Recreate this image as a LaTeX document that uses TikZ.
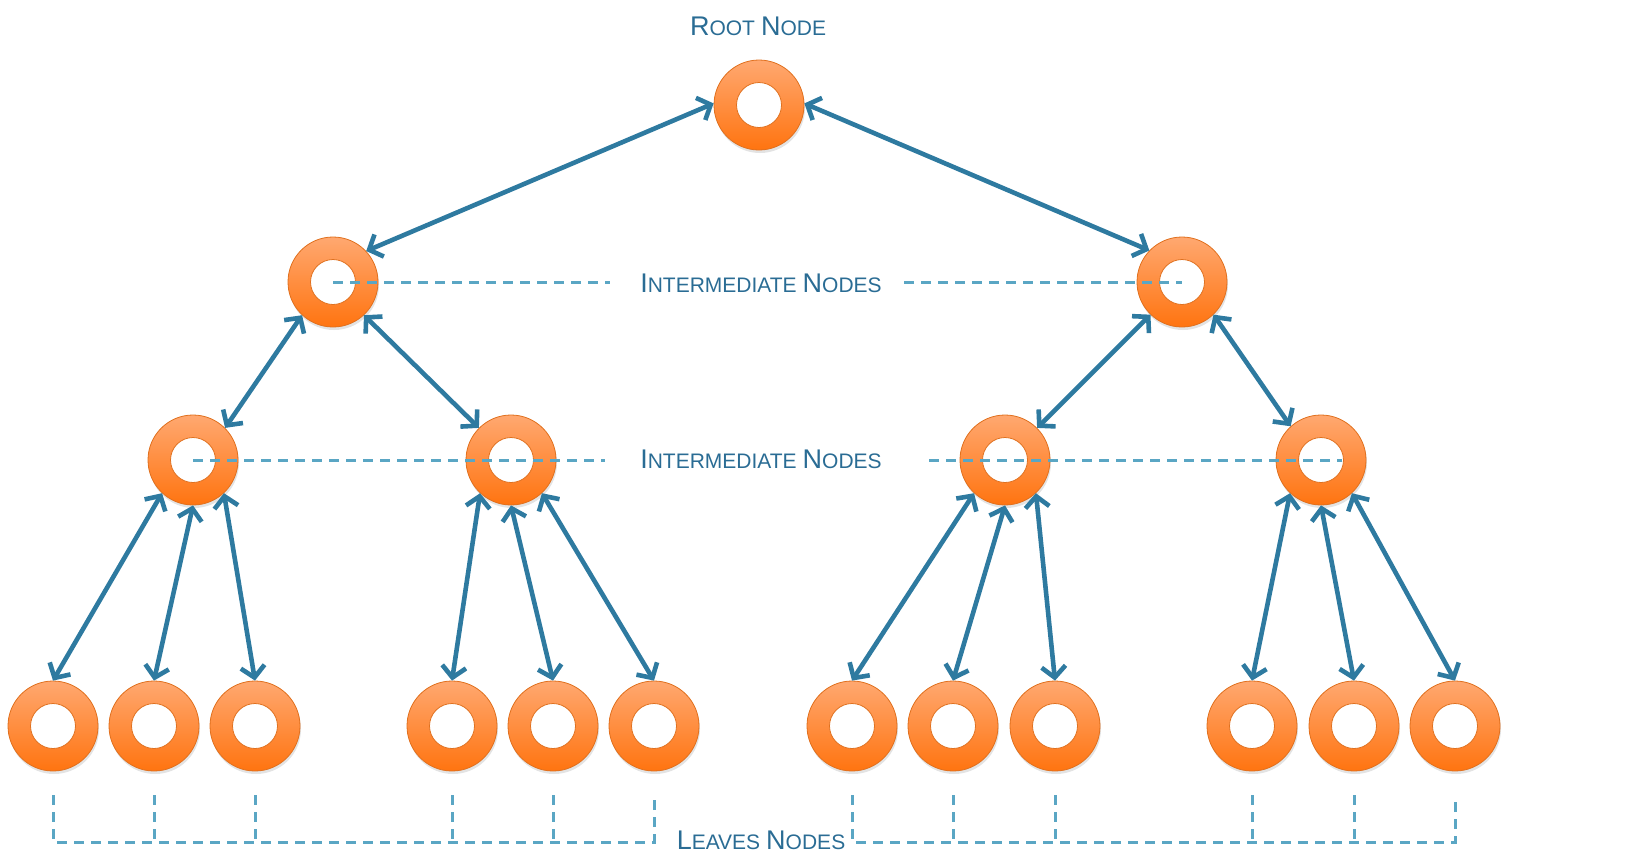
\documentclass[tikz,border=0pt]{standalone}
\usepackage{fontspec}
\setmainfont{Liberation Sans}
\usetikzlibrary{arrows.meta,shadows}
\definecolor{ringtop}{HTML}{FFA870}
\definecolor{ringbot}{HTML}{FF7410}
\definecolor{ringedge}{HTML}{E0701E}
\definecolor{arrowc}{HTML}{2E7AA0}
\definecolor{textc}{HTML}{2A6C94}
\definecolor{dashc}{HTML}{5AA6C4}
\newcommand\scword[2]{{\fontsize{27}{27}\selectfont #1}{\fontsize{21}{21}\selectfont #2}}
\newcommand\scsp{\hspace{6pt}}
\begin{document}
\begin{tikzpicture}[x=1pt,y=-1pt,
 ring/.style={circle, minimum size=90pt, inner sep=0pt, top color=ringtop, bottom color=ringbot,
   draw=ringedge, line width=0.8pt,
   drop shadow={opacity=0.22,shadow xshift=1pt,shadow yshift=-3pt},
   path picture={\fill[white,draw=ringedge,line width=0.8pt] (path picture bounding box.center) circle (22.5pt);}},
 link/.style={draw=arrowc, line width=4.6pt,
   {Straight Barb[length=11pt,width=24pt]}-{Straight Barb[length=11pt,width=24pt]}},
 guide/.style={draw=dashc, line width=3pt, dash pattern=on 10pt off 7pt},
 lbl/.style={text=textc, inner sep=0pt, anchor=base}
]
\useasboundingbox (0,0) rectangle (1634,863);

% rings
\node[ring] (root) at (759,105) {};
\node[ring] (ia) at (333,282) {};
\node[ring] (ib) at (1182,282) {};
\node[ring] (ja) at (193,460) {};
\node[ring] (jb) at (511,460) {};
\node[ring] (jc) at (1005,460) {};
\node[ring] (jd) at (1321,460) {};
\foreach \n/\x in {1/53,2/154,3/255,4/452,5/553,6/654,7/852,8/953,9/1055,10/1252,11/1354,12/1455}
  \node[ring] (lf\n) at (\x,726) {};

% labels
\node[lbl] (troot) at (758,35) {\scword{R}{OOT}\scsp\scword{N}{ODE}};
\node[lbl] (tint1) at (761,292) {\scword{I}{NTERMEDIATE}\scsp\scword{N}{ODES}};
\node[lbl] (tint2) at (761,468) {\scword{I}{NTERMEDIATE}\scsp\scword{N}{ODES}};
\node[lbl] (tleaf) at (761,849) {\scword{L}{EAVES}\scsp\scword{N}{ODES}};

% dashed guides
\draw[guide] (ia.center) -- (610,282);
\draw[guide] (904,282) -- (ib.center);
\draw[guide] (ja.center) -- (605,460);
\draw[guide] (929,460) -- (1342,460);

\draw[guide] (lf1 |- 0,795) -- (lf1 |- 0,842) -- (lf6 |- 0,842) -- (lf6 |- 0,795);
\foreach \n in {2,3,4,5}
  \draw[guide] (lf\n |- 0,795) -- (lf\n |- 0,842);
\draw[guide] (lf7 |- 0,795) -- (lf7 |- 0,842) -- (lf12 |- 0,842) -- (lf12 |- 0,795);
\foreach \n in {8,9,10,11}
  \draw[guide] (lf\n |- 0,795) -- (lf\n |- 0,842);

% connectors
\draw[link] (root.178) -- (ia.43);
\draw[link] (root.2) -- (ib.136);
\draw[link] (ia.227) -- (ja.45);
\draw[link] (ia.313) -- (jb.135);
\draw[link] (ib.226) -- (jc.45);
\draw[link] (ib.314) -- (jd.132);

\draw[link] (ja.227) -- (lf1.90);
\draw[link] (ja.270) -- (lf2.90);
\draw[link] (ja.313) -- (lf3.90);
\draw[link] (jb.227) -- (lf4.90);
\draw[link] (jb.270) -- (lf5.90);
\draw[link] (jb.313) -- (lf6.90);
\draw[link] (jc.227) -- (lf7.90);
\draw[link] (jc.270) -- (lf8.90);
\draw[link] (jc.313) -- (lf9.90);
\draw[link] (jd.227) -- (lf10.90);
\draw[link] (jd.270) -- (lf11.90);
\draw[link] (jd.313) -- (lf12.90);
\end{tikzpicture}
\end{document}
